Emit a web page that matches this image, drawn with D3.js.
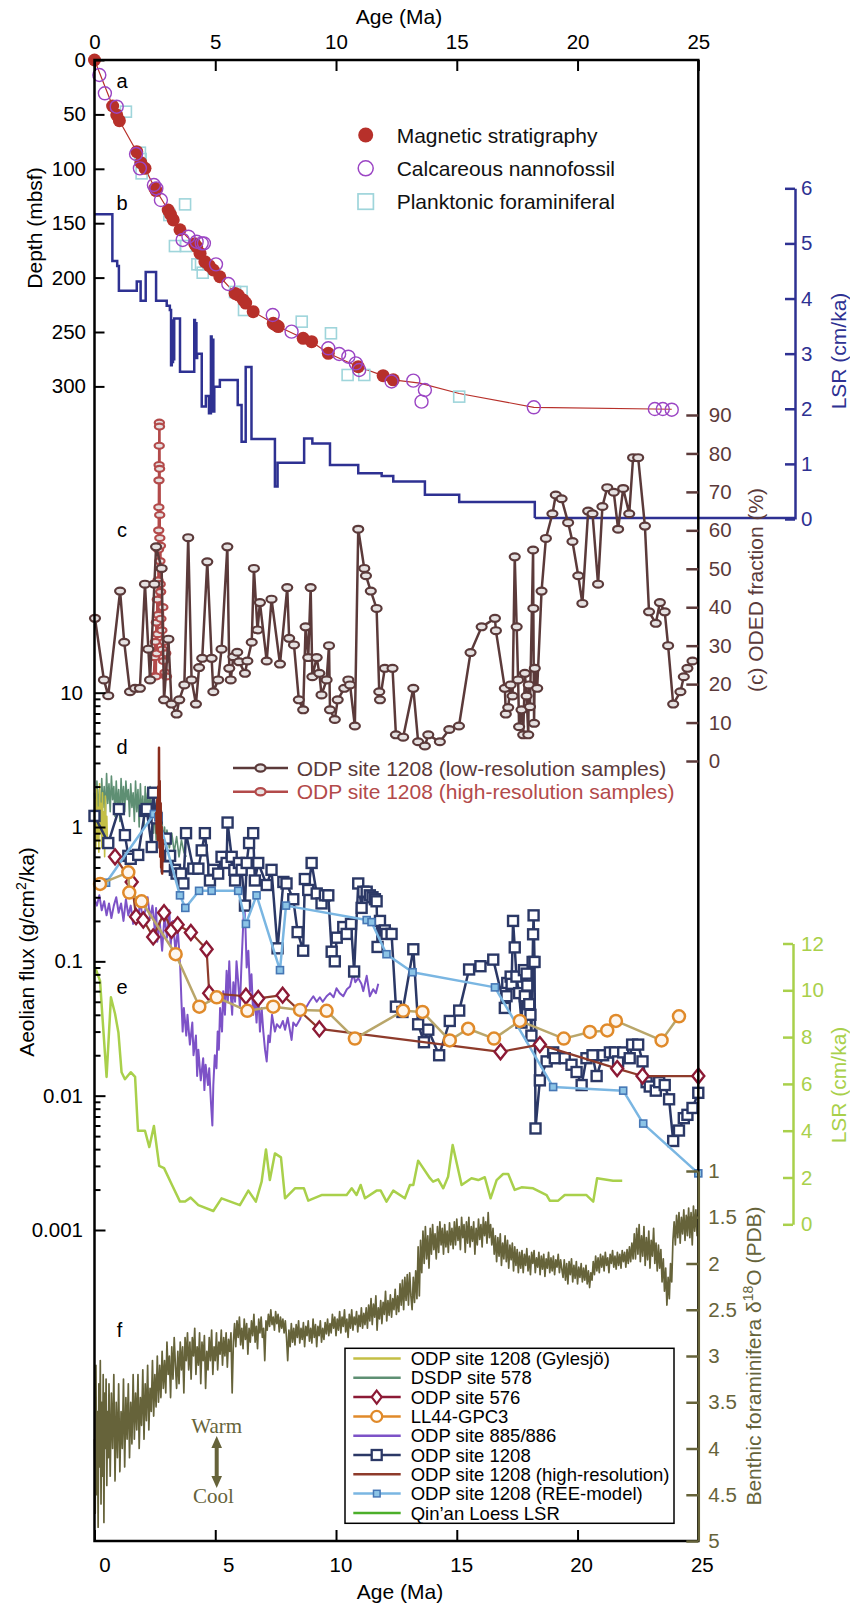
<!DOCTYPE html>
<html><head><meta charset="utf-8">
<script src="https://cdn.jsdelivr.net/npm/d3@7"></script>
<style>body{margin:0;background:#fff}svg{display:block}</style>
</head><body>
<svg id="c" width="850" height="1607"></svg>
<script>
// ---------------- DATA ----------------
const ageTicks = [0,5,10,15,20,25];
const depthTicks = [0,50,100,150,200,250,300];
const lsrTicks = [0,1,2,3,4,5,6];
const odedTicks = [0,10,20,30,40,50,60,70,80,90];
const fluxTicks = [10,1,0.1,0.01,0.001];
const fluxTickLabels = ["10","1","0.1","0.01","0.001"];
const loessTicks = [0,2,4,6,8,10,12];
const d18oTicks = [1,1.5,2,2.5,3,3.5,4,4.5,5];
const d18oTickLabels = ["1","1.5","2","2.5","3","3.5","4","4.5","5"];

// (a) age-depth: [age Ma, depth mbsf]
const magStrat = [[0,0],[0.75,42.3],[0.92,50.5],[1.03,55.8],[1.75,84.3],[1.92,94.4],[2.09,99.6],[2.5,117.9],[2.55,120],[3.05,137.9],[3.15,142],[3.26,147],[3.54,156],[4.15,169],[4.23,171.6],[4.37,177.7],[4.57,185.4],[4.75,189],[4.92,193],[5.19,199.2],[5.82,214.5],[5.95,216],[6.16,220.6],[6.26,223.4],[6.57,231.3],[7.4,242],[7.5,243.5],[7.61,245],[8.64,255.8],[8.99,258.9],[9.68,269.6],[10.92,281.9],[11.95,290.1],[12.37,294]];
const nannofossil = [[0.2,13.8],[0.43,30.6],[0.92,42.9],[1.72,86.4],[1.88,99.6],[2.46,114.9],[2.56,118],[2.75,128.7],[3.65,165.4],[3.89,162.4],[4.23,167],[4.44,168.5],[4.53,168.5],[5.03,187.8],[5.54,205.9],[7.38,234.4],[8.16,249.7],[9.68,265],[10.13,270.2],[10.51,272.7],[10.82,278.8],[10.96,284.9],[12.3,295.5],[13.2,294.7],[13.68,303.3],[13.54,314],[18.19,319.2],[23.2,320.8],[23.53,320.8],[23.9,321.4]];
const foraminifera = [[1.3,47.5],[1.88,85.2],[1.91,91],[1.95,104.2],[3.75,132.7],[3.10,142.5],[3.33,171],[3.79,171],[4.26,187.8],[4.41,187.8],[4.48,195.5],[5.82,213.2],[6.09,213.2],[6.19,229.8],[8.58,240.5],[9.79,251.2],[10.48,289.5],[11.17,289.5],[15.1,309.4]];
const ageModel = [[0,0],[0.75,42.3],[1.03,55.8],[1.75,84.3],[2.09,99.6],[2.5,117.9],[3.05,137.9],[3.54,156],[4.23,171.6],[4.57,185.4],[4.92,193],[5.19,199.2],[5.82,214.5],[6.26,223.4],[6.57,231.3],[7.4,242],[7.61,245],[8.64,255.8],[8.99,258.9],[9.68,269.6],[10.92,281.9],[11.95,290.1],[12.37,294],[13.47,297],[15.1,306.5],[18.19,319.2],[23.9,321]];

// (b) LSR ODP 1208 (step starts): [age, cm/ka]
const lsr1208 = [[0,5.53],[0.74,4.68],[0.94,4.59],[1.01,4.14],[1.75,4.31],[1.91,3.96],[2.12,4.48],[2.55,3.96],[2.99,3.87],[3.12,3.79],[3.17,2.79],[3.20,3.6],[3.22,2.85],[3.25,3.55],[3.27,2.9],[3.30,3.64],[3.54,2.67],[4.13,3.61],[4.16,2.95],[4.19,3.55],[4.22,2.92],[4.25,3.0],[4.44,2.04],[4.61,2.23],[4.74,1.92],[4.82,3.31],[4.85,2.0],[4.88,3.25],[4.92,1.95],[4.96,2.4],[5.19,2.52],[5.93,2.07],[6.09,1.40],[6.26,2.76],[6.50,1.45],[7.47,0.59],[7.58,1.02],[8.68,1.46],[9.02,1.37],[9.75,0.98],[10.92,0.83],[11.89,0.78],[12.37,0.68],[13.68,0.44],[15.1,0.31],[18.23,0.02]];

// (c) ODED fraction (%)
const odedLow = [[0.02,37.1],[0.39,21.1],[0.57,17.0],[1.06,44.2],[1.23,30.9],[1.47,18.0],[1.68,18.9],[1.88,18.9],[2.09,46.0],[2.23,29.1],[2.30,21.1],[2.48,46.0],[2.55,55.7],[2.78,50.1],[2.88,15.9],[3.06,31.7],[3.19,14.8],[3.40,12.2],[3.51,15.9],[3.72,19.8],[3.88,58.1],[4.02,21.1],[4.20,14.8],[4.33,24.3],[4.46,26.7],[4.67,51.8],[4.85,26.7],[4.92,18.0],[5.12,21.1],[5.26,29.1],[5.50,55.7],[5.58,24.1],[5.64,21.1],[5.75,27.1],[5.91,28.3],[5.99,25.8],[6.23,22.8],[6.33,26.0],[6.51,30.9],[6.60,50.1],[6.75,34.1],[6.85,41.2],[7.13,26.0],[7.33,42.1],[7.68,25.2],[7.98,45.1],[8.06,31.9],[8.26,30.2],[8.46,15.9],[8.64,13.3],[8.74,34.9],[8.85,26.9],[8.95,45.1],[9.02,21.9],[9.20,26.9],[9.31,22.8],[9.40,17.2],[9.61,21.1],[9.71,30.0],[9.75,13.3],[9.95,10.8],[10.07,15.9],[10.34,18.9],[10.51,21.1],[10.58,19.8],[10.78,9.1],[10.92,60.3],[11.17,50.1],[11.24,48.2],[11.44,44.2],[11.68,39.7],[11.79,18.0],[11.82,15.9],[12.02,24.1],[12.34,24.1],[12.48,6.8],[12.78,6.2],[13.20,18.9],[13.40,5.0],[13.68,3.9],[13.82,6.8],[14.30,5.0],[14.69,8.2],[15.09,9.1],[15.57,28.2],[16.03,34.9],[16.58,37.1],[16.62,33.9],[16.99,18.9],[17.03,12.2],[17.13,13.9],[17.23,19.8],[17.31,16.9],[17.40,53.1],[17.48,34.9],[17.54,21.1],[17.58,8.9],[17.68,13.3],[17.75,6.8],[17.82,22.8],[17.89,16.9],[17.96,6.8],[17.98,19.8],[18.03,14.1],[18.16,54.9],[18.17,39.7],[18.2,9.8],[18.23,24.1],[18.33,18.9],[18.51,44.2],[18.69,57.9],[18.96,64.3],[19.1,69.2],[19.34,68.2],[19.61,62.0],[19.79,57.1],[20.03,48.2],[20.2,41.0],[20.44,65.0],[20.62,64.3],[20.85,46.0],[21.03,66.2],[21.23,71.1],[21.5,69.9],[21.68,60.3],[21.89,70.9],[22.14,64.3],[22.3,78.9],[22.51,78.9],[22.79,61.1],[22.96,38.8],[23.24,35.8],[23.41,41.2],[23.61,38.8],[23.75,30.0],[23.96,14.8],[24.26,18.0],[24.4,21.9],[24.55,24.1],[24.76,26.0]];
const odedHigh = [[2.46,22],[2.49,27],[2.52,31],[2.54,22],[2.56,36],[2.58,28],[2.60,42],[2.62,33],[2.63,47],[2.64,38],[2.65,55],[2.66,60],[2.665,66],[2.67,73],[2.675,77],[2.68,82],[2.685,88],[2.69,87],[2.695,76],[2.70,64],[2.705,58],[2.71,52],[2.72,46],[2.73,56],[2.74,44],[2.75,37],[2.77,50],[2.79,34],[2.81,29],[2.83,40],[2.86,26],[2.89,31],[2.92,23],[2.95,28],[2.98,22]];

// (d) Aeolian flux (g/cm2/ka)
const fluxGylesjo = [[0.0,0.9],[0.03,1.6],[0.06,0.7],[0.09,1.9],[0.12,0.8],[0.15,1.4],[0.18,0.65],[0.21,2.1],[0.24,0.9],[0.27,1.5],[0.3,0.7],[0.33,1.8],[0.36,0.85],[0.39,1.3],[0.42,0.6],[0.45,1.7],[0.48,0.8],[0.51,1.2],[0.54,0.7]];
const flux578 = [[0.0,1.8],[0.05,1.1],[0.1,2.2],[0.15,1.3],[0.2,1.9],[0.25,1.0],[0.3,2.3],[0.35,1.4],[0.4,2.0],[0.45,1.2],[0.5,2.5],[0.55,1.5],[0.6,2.1],[0.65,1.3],[0.7,2.4],[0.75,1.6],[0.8,2.0],[0.85,1.2],[0.9,2.2],[0.95,1.4],[1.0,1.9],[1.05,1.1],[1.1,2.3],[1.15,1.5],[1.2,2.0],[1.25,1.3],[1.3,2.2],[1.35,1.6],[1.4,1.9],[1.45,1.2],[1.5,2.1],[1.55,1.4],[1.6,1.8],[1.65,1.1],[1.7,2.2],[1.75,1.3],[1.8,1.9],[1.85,1.0],[1.9,2.1],[1.95,1.2],[2.0,1.7],[2.05,1.0],[2.1,2.0],[2.15,1.3],[2.2,1.8],[2.25,1.1],[2.3,2.0],[2.35,1.2],[2.4,1.6],[2.45,0.9],[2.5,1.5],[2.55,0.8],[2.6,1.3],[2.65,0.85],[2.7,1.2],[2.75,0.75],[2.8,1.1],[2.85,0.7],[2.9,1.0],[2.95,0.75],[3.0,0.95],[3.1,0.7],[3.2,0.9],[3.3,0.65],[3.4,0.85],[3.5,0.6],[3.6,0.8],[3.7,0.65],[3.8,0.6]];
const flux576 = [[0.85,0.60],[1.54,0.39],[1.72,0.215],[2.02,0.203],[2.43,0.152],[2.88,0.23],[3.19,0.17],[3.44,0.187],[3.99,0.164],[4.64,0.123],[4.75,0.058],[6.27,0.055],[6.78,0.053],[7.79,0.056],[9.31,0.0314],[16.81,0.0212],[18.44,0.024],[21.64,0.0159],[22.69,0.014],[25.0,0.014]];
const fluxLL44 = [[0.23,0.377],[1.40,0.46],[1.44,0.325],[1.95,0.28],[3.36,0.113],[4.34,0.046],[5.06,0.054],[6.33,0.0428],[7.40,0.046],[8.51,0.0435],[9.61,0.0428],[10.78,0.0266],[12.78,0.0428],[13.58,0.042],[14.71,0.0258],[15.47,0.0315],[16.54,0.0266],[17.61,0.036],[19.43,0.0266],[20.51,0.0298],[21.23,0.0306],[21.59,0.036],[23.48,0.0258],[24.2,0.039]];
const flux885 = [[0.0,0.29],[0.1,0.26],[0.2,0.31],[0.3,0.24],[0.4,0.28],[0.5,0.22],[0.6,0.27],[0.7,0.21],[0.8,0.26],[0.9,0.30],[1.0,0.23],[1.1,0.27],[1.2,0.20],[1.3,0.29],[1.4,0.22],[1.5,0.26],[1.6,0.19],[1.7,0.25],[1.8,0.21],[1.9,0.28],[2.0,0.20],[2.1,0.24],[2.2,0.30],[2.3,0.21],[2.4,0.26],[2.5,0.17],[2.55,0.25],[2.6,0.14],[2.7,0.2],[2.8,0.12],[2.9,0.22],[3.0,0.15],[3.1,0.24],[3.15,0.13],[3.25,0.2],[3.35,0.12],[3.45,0.17],[3.55,0.09],[3.6,0.05],[3.65,0.03],[3.7,0.045],[3.8,0.028],[3.85,0.04],[3.95,0.024],[4.05,0.035],[4.1,0.02],[4.2,0.028],[4.25,0.014],[4.3,0.022],[4.4,0.013],[4.5,0.019],[4.55,0.011],[4.6,0.017],[4.7,0.012],[4.75,0.016],[4.82,0.009],[4.88,0.006],[4.92,0.012],[4.98,0.02],[5.05,0.016],[5.1,0.03],[5.15,0.022],[5.2,0.045],[5.28,0.03],[5.33,0.06],[5.4,0.04],[5.47,0.085],[5.52,0.05],[5.58,0.1],[5.63,0.06],[5.7,0.04],[5.75,0.07],[5.82,0.05],[5.88,0.1],[5.95,0.07],[6.02,0.045],[6.08,0.09],[6.14,0.16],[6.2,0.28],[6.25,0.18],[6.3,0.09],[6.37,0.12],[6.44,0.06],[6.5,0.08],[6.57,0.04],[6.64,0.055],[6.71,0.035],[6.78,0.06],[6.85,0.03],[6.92,0.045],[6.99,0.03],[7.06,0.022],[7.13,0.018],[7.2,0.028],[7.26,0.025],[7.35,0.04],[7.47,0.03],[7.55,0.034],[7.68,0.032],[7.8,0.036],[7.89,0.031],[8.0,0.038],[8.16,0.026],[8.23,0.035],[8.35,0.033],[8.51,0.037],[8.6,0.042],[8.78,0.046],[8.9,0.05],[9.06,0.055],[9.2,0.05],[9.33,0.054],[9.45,0.05],[9.61,0.055],[9.75,0.058],[9.9,0.054],[10.02,0.063],[10.15,0.058],[10.3,0.055],[10.45,0.062],[10.58,0.065],[10.71,0.081],[10.8,0.07],[10.92,0.075],[11.05,0.068],[11.13,0.06],[11.27,0.078],[11.4,0.055],[11.54,0.062],[11.65,0.058],[11.75,0.068]];
const flux1208 = [[0.0,1.21],[0.57,0.76],[1.01,1.36],[1.26,0.87],[1.40,0.61],[1.50,0.58],[1.81,0.62],[2.09,1.32],[2.16,1.36],[2.37,0.71],[2.43,1.80],[2.55,1.19],[2.57,1.16],[2.95,0.82],[2.99,0.51],[3.13,0.61],[3.33,0.48],[3.40,0.45],[3.58,0.45],[3.68,0.38],[3.79,0.9],[4.09,0.49],[4.30,0.49],[4.44,0.67],[4.57,0.9],[4.78,0.40],[4.92,0.48],[5.12,0.45],[5.26,0.6],[5.47,0.54],[5.51,1.08],[5.68,0.6],[5.79,0.48],[5.82,0.40],[5.98,0.54],[6.09,0.48],[6.23,0.26],[6.30,0.54],[6.40,0.76],[6.57,0.9],[6.64,0.40],[6.78,0.54],[7.13,0.37],[7.33,0.48],[7.58,0.125],[7.82,0.39],[7.95,0.38],[8.23,0.29],[8.41,0.165],[8.64,0.12],[8.71,0.41],[8.85,0.34],[8.99,0.54],[9.20,0.32],[9.40,0.27],[9.54,0.31],[9.68,0.31],[9.82,0.118],[9.95,0.10],[10.03,0.15],[10.30,0.18],[10.44,0.16],[10.62,0.19],[10.75,0.084],[10.92,0.38],[11.06,0.25],[11.13,0.33],[11.27,0.33],[11.40,0.31],[11.51,0.30],[11.61,0.29],[11.68,0.28],[11.72,0.128],[11.82,0.20],[12.02,0.17],[12.09,0.16],[12.30,0.16],[12.48,0.046],[12.75,0.042],[13.2,0.123],[13.40,0.034],[13.64,0.025],[13.82,0.031],[14.27,0.020],[14.71,0.036],[15.1,0.043],[15.51,0.087],[15.98,0.092],[16.51,0.103],[16.99,0.045],[17.06,0.055],[17.09,0.069],[17.23,0.077],[17.27,0.068],[17.33,0.20],[17.40,0.127],[17.47,0.077],[17.58,0.058],[17.68,0.035],[17.78,0.086],[17.82,0.055],[17.89,0.081],[17.92,0.066],[18.0,0.048],[18.05,0.040],[18.09,0.028],[18.14,0.099],[18.16,0.159],[18.18,0.22],[18.22,0.099],[18.26,0.0057],[18.44,0.013],[18.72,0.018],[18.99,0.021],[19.06,0.019],[19.47,0.019],[19.75,0.017],[19.96,0.015],[20.17,0.012],[20.37,0.019],[20.62,0.020],[20.79,0.014],[21.06,0.020],[21.34,0.021],[21.55,0.021],[21.68,0.018],[21.89,0.021],[22.16,0.019],[22.26,0.024],[22.51,0.024],[22.69,0.018],[22.86,0.0126],[22.99,0.0117],[23.24,0.0109],[23.38,0.0126],[23.61,0.012],[23.79,0.0094],[23.96,0.0046],[24.2,0.0055],[24.4,0.0068],[24.55,0.0072],[24.76,0.0081],[25.0,0.0105]];
const flux1208High = [[2.56,1.3],[2.58,0.9],[2.6,1.6],[2.62,0.8],[2.64,2.0],[2.66,1.1],[2.67,3.9],[2.68,1.4],[2.69,0.7],[2.70,2.2],[2.72,0.6],[2.74,1.5],[2.76,0.5],[2.78,1.0],[2.8,0.45],[2.82,0.8],[2.84,0.55]];
const flux1208REE = [[0.48,0.385],[2.46,1.25],[2.64,1.18],[3.54,0.31],[3.76,0.25],[4.33,0.335],[4.85,0.335],[5.95,0.335],[6.27,0.19],[6.71,0.31],[7.68,0.086],[7.93,0.26],[11.27,0.203],[11.47,0.196],[12.09,0.113],[13.17,0.083],[16.58,0.064],[18.99,0.0116],[21.89,0.0109],[22.72,0.0062],[25.0,0.00264]];

// (e) Qin'an loess LSR (cm/ka)
const loessLSR = [[0.02,11.0],[0.23,10.4],[0.30,9.3],[0.50,6.3],[0.68,9.7],[0.85,9.0],[0.99,8.2],[1.12,6.5],[1.26,6.2],[1.50,6.5],[1.68,6.3],[1.80,4.0],[2.09,4.0],[2.27,3.3],[2.46,4.2],[2.68,2.5],[2.88,2.4],[3.20,1.7],[3.54,0.97],[3.75,0.97],[3.98,1.14],[4.30,0.82],[4.92,0.57],[5.26,1.11],[6.02,0.82],[6.37,1.44],[6.68,0.97],[6.92,1.82],[7.10,3.2],[7.26,1.89],[7.47,3.03],[7.72,2.86],[7.89,1.11],[8.30,1.54],[8.67,1.54],[8.85,1.01],[9.40,1.25],[10.44,1.25],[10.65,1.54],[10.85,1.25],[11.02,1.68],[11.20,1.11],[11.68,1.44],[11.85,1.44],[12.09,0.97],[12.37,1.44],[12.85,1.11],[13.06,1.68],[13.2,1.68],[13.40,2.72],[13.89,1.97],[14.02,1.82],[14.23,1.92],[14.44,1.54],[14.64,2.03],[14.83,3.39],[15.2,1.68],[15.61,1.97],[15.89,1.89],[16.16,2.01],[16.40,1.11],[16.65,1.89],[16.92,2.15],[17.13,2.15],[17.40,1.47],[17.68,1.58],[18.16,1.54],[18.72,1.25],[18.85,1.01],[19.2,1.01],[19.47,1.25],[20.37,1.25],[20.65,0.97],[20.81,1.97],[21.47,1.86],[21.85,1.86]];

// (f) benthic d18O (permil PDB)
const d18O = [[0.00,3.9],[0.03,4.7],[0.06,3.1],[0.09,4.5],[0.12,3.6],[0.15,4.85],[0.18,3.3],[0.21,4.2],[0.24,3.05],[0.27,4.6],[0.30,3.5],[0.33,4.3],[0.36,3.2],[0.39,4.8],[0.42,3.4],[0.45,4.0],[0.48,3.25],[0.51,4.4],[0.54,3.6],[0.57,4.1],[0.60,3.3],
[0.65,4.3],[0.70,3.4],[0.75,4.0],[0.80,3.2],[0.85,4.35],[0.90,3.5],[0.95,4.1],[1.0,3.3],[1.05,4.25],[1.10,3.6],[1.15,4.0],[1.20,3.25],[1.25,4.2],[1.30,3.45],[1.35,3.9],[1.40,3.3],[1.45,4.1],[1.50,3.5],[1.55,3.95],[1.60,3.2],
[1.65,3.9],[1.70,3.4],[1.75,3.8],[1.80,3.2],[1.85,4.0],[1.90,3.45],[1.95,3.75],[2.0,3.15],[2.05,3.9],[2.10,3.3],[2.15,3.7],[2.20,3.1],[2.25,3.8],[2.30,3.35],[2.35,3.6],[2.40,3.05],[2.45,3.65],[2.50,3.2],[2.55,3.55],[2.60,3.0],[2.65,3.5],[2.70,3.1],[2.75,3.45],
[2.80,2.95],[2.85,3.35],[2.90,3.05],[2.95,3.40],[3.00,2.85],[3.05,3.20],[3.10,3.00],[3.15,3.45],[3.20,2.90],[3.25,3.25],[3.30,2.80],[3.35,3.10],[3.40,3.35],[3.45,2.95],[3.50,3.30],[3.55,2.85],[3.60,3.15],[3.65,2.90],[3.70,3.40],[3.75,2.80],
[3.80,3.05],[3.85,2.75],[3.90,3.15],[3.95,2.85],[4.00,3.25],[4.05,2.80],[4.10,3.00],[4.15,2.70],[4.20,3.20],[4.25,2.90],[4.30,3.10],[4.35,2.75],[4.40,3.30],[4.45,2.85],[4.50,3.05],[4.55,2.78],[4.60,3.35],[4.65,2.95],[4.70,3.15],[4.75,2.80],[4.80,3.05],[4.85,2.72],[4.90,3.20],[4.95,2.90],[5.00,3.05],[5.05,2.75],[5.10,3.15],[5.15,2.85],[5.20,2.98],[5.25,2.72],[5.30,3.10],[5.35,2.80],[5.40,3.00],[5.45,2.75],[5.50,3.12],[5.55,2.82],[5.60,2.95],[5.65,2.75],[5.70,3.40],[5.75,2.85],
[5.80,2.65],[5.85,2.90],[5.90,2.62],[5.95,2.80],[6.00,2.58],[6.05,2.88],[6.10,2.70],[6.15,2.92],[6.20,2.60],[6.25,2.82],[6.30,2.65],[6.35,2.98],[6.40,2.70],[6.45,2.85],[6.50,2.62],[6.55,2.78],[6.60,2.55],[6.65,2.85],[6.70,2.68],[6.75,2.92],[6.80,2.60],[6.85,2.75],[6.90,2.58],[6.95,2.80],[7.00,2.70],[7.05,3.05],[7.10,2.62],
[7.15,2.72],[7.20,2.55],[7.25,2.68],[7.30,2.50],[7.35,2.66],[7.40,2.58],[7.45,2.72],[7.50,2.52],[7.55,2.65],[7.60,2.55],[7.65,2.74],[7.70,2.58],[7.75,2.70],[7.80,2.60],[7.85,2.75],[7.90,2.62],[7.95,2.80],
[8.00,3.05],[8.05,2.72],[8.10,2.90],[8.15,2.65],[8.20,2.85],[8.25,2.70],[8.30,2.88],[8.35,2.66],[8.40,2.80],[8.45,2.62],[8.50,2.86],[8.55,2.70],[8.60,2.82],[8.65,2.64],[8.70,2.90],[8.75,2.68],[8.80,2.78],[8.85,2.62],[8.90,2.84],[8.95,2.70],[9.00,2.86],[9.05,2.60],[9.10,2.80],[9.15,2.66],[9.20,2.90],[9.25,2.68],[9.30,2.78],[9.35,2.62],[9.40,2.85],[9.45,2.70],[9.50,2.82],[9.55,2.64],[9.60,2.76],[9.65,2.60],[9.70,2.78],[9.75,2.65],
[9.80,2.75],[9.85,2.55],[9.90,2.70],[9.95,2.58],[10.00,2.78],[10.05,2.60],[10.10,2.72],[10.15,2.52],[10.20,2.75],[10.25,2.58],[10.30,2.68],[10.35,2.50],[10.40,2.74],[10.45,2.60],[10.50,2.80],[10.55,2.55],[10.60,2.70],[10.65,2.50],[10.70,2.72],[10.75,2.58],[10.80,2.66],[10.85,2.52],[10.90,2.74],[10.95,2.56],[11.00,2.68],[11.05,2.48],[11.10,2.70],[11.15,2.54],[11.20,2.66],[11.25,2.48],
[11.30,2.70],[11.35,2.45],[11.40,2.62],[11.45,2.38],[11.50,2.66],[11.55,2.44],[11.60,2.58],[11.65,2.35],[11.70,2.72],[11.75,2.48],[11.80,2.60],[11.85,2.40],[11.90,2.65],[11.95,2.42],[12.00,2.55],[12.05,2.30],[12.10,2.62],[12.15,2.40],[12.20,2.56],[12.25,2.34],[12.30,2.58],[12.35,2.38],[12.40,2.50],[12.45,2.28],[12.50,2.55],[12.55,2.35],
[12.60,2.52],[12.65,2.22],[12.70,2.45],[12.75,2.18],[12.80,2.50],[12.85,2.15],[12.90,2.40],[12.95,2.12],[13.00,2.45],[13.05,2.10],[13.10,2.35],[13.15,2.50],[13.20,2.15],[13.25,2.42],[13.30,2.08],[13.35,2.38],[13.40,1.82],[13.45,2.35],
[13.50,1.75],[13.55,2.10],[13.60,1.65],[13.65,2.00],[13.70,1.60],[13.75,1.95],[13.80,1.70],[13.85,2.05],[13.90,1.62],[13.95,1.90],[14.00,1.58],[14.05,1.85],[14.10,1.68],[14.15,1.95],[14.20,1.60],[14.25,1.88],[14.30,1.55],[14.35,1.80],[14.40,1.62],[14.45,1.90],[14.50,1.58],[14.55,1.82],[14.60,1.65],[14.65,1.88],[14.70,1.56],[14.75,1.80],[14.80,1.62],[14.85,1.84],
[14.90,1.55],[14.95,1.80],[15.00,1.52],[15.05,1.75],[15.10,1.60],[15.15,1.85],[15.20,1.50],[15.25,1.72],[15.30,1.58],[15.35,1.88],[15.40,1.55],[15.45,1.78],[15.50,1.50],[15.55,1.82],[15.60,1.60],[15.65,1.76],[15.70,1.55],[15.75,1.90],[15.80,1.62],[15.85,1.80],[15.90,1.52],[15.95,1.74],[16.00,1.58],[16.05,1.82],[16.10,1.50],[16.15,1.70],[16.20,1.55],[16.25,1.78],[16.30,1.45],[16.35,1.72],[16.40,1.58],[16.45,1.80],[16.50,1.62],
[16.55,1.90],[16.60,1.70],[16.65,1.98],[16.70,1.72],[16.75,1.92],[16.80,1.68],[16.85,2.02],[16.90,1.78],[16.95,1.95],[17.00,1.70],[17.05,1.98],[17.10,1.75],[17.15,2.05],[17.20,1.80],[17.25,1.96],[17.30,1.78],[17.35,2.08],[17.40,1.82],[17.45,2.02],[17.50,1.85],[17.55,2.10],[17.60,1.88],
[17.65,2.05],[17.70,1.86],[17.75,2.10],[17.80,1.90],[17.85,2.02],[17.90,1.84],[17.95,2.08],[18.00,1.92],[18.05,2.12],[18.10,1.88],[18.15,2.00],[18.20,1.86],[18.25,2.10],[18.30,1.94],[18.35,2.04],[18.40,1.88],[18.45,2.12],[18.50,1.92],[18.55,2.06],[18.60,1.90],[18.65,2.14],[18.70,1.95],[18.75,2.05],[18.80,1.88],[18.85,2.10],[18.90,1.94],[18.95,2.08],[19.00,1.92],[19.05,2.12],[19.10,1.96],[19.15,2.04],[19.20,1.90],[19.25,2.10],[19.30,1.96],[19.35,2.06],
[19.40,2.15],[19.45,1.96],[19.50,2.18],[19.55,2.00],[19.60,2.22],[19.65,1.98],[19.70,2.12],[19.75,1.95],[19.80,2.20],[19.85,2.02],[19.90,2.16],[19.95,1.98],[20.00,2.22],[20.05,2.04],[20.10,2.15],[20.15,2.00],[20.20,2.20],[20.25,2.05],[20.30,2.18],[20.35,2.02],[20.40,2.22],[20.45,2.08],[20.50,2.26],[20.55,2.10],[20.60,2.18],
[20.65,1.98],[20.70,2.12],[20.75,1.92],[20.80,2.08],[20.85,1.94],[20.90,2.10],[20.95,1.90],[21.00,2.04],[21.05,1.92],[21.10,2.08],[21.15,1.88],[21.20,2.02],[21.25,1.94],[21.30,2.10],[21.35,1.90],[21.40,2.00],[21.45,1.86],[21.50,2.04],[21.55,1.92],[21.60,2.06],[21.65,1.88],[21.70,2.02],[21.75,1.90],[21.80,2.05],[21.85,1.86],[21.90,1.98],[21.95,1.88],[22.00,2.04],[22.05,1.85],[22.10,2.00],[22.15,1.82],[22.20,1.98],[22.25,1.78],[22.30,1.95],
[22.35,1.68],[22.40,1.95],[22.45,1.62],[22.50,1.90],[22.55,1.58],[22.60,1.98],[22.65,1.70],[22.70,1.92],[22.75,1.60],[22.80,2.02],[22.85,1.72],[22.90,1.96],[22.95,1.65],[23.00,2.05],[23.05,1.75],[23.10,1.92],[23.15,1.62],[23.20,2.00],[23.25,1.78],[23.30,2.08],[23.35,1.80],[23.40,2.05],
[23.45,1.85],[23.50,2.20],[23.55,1.95],[23.60,2.30],[23.65,2.05],[23.70,2.45],[23.75,2.15],[23.80,2.38],[23.85,2.00],[23.90,2.20],
[23.95,1.75],[24.00,1.55],[24.05,1.80],[24.10,1.48],[24.15,1.72],[24.20,1.45],[24.25,1.78],[24.30,1.50],[24.35,1.68],[24.40,1.42],[24.45,1.75],[24.50,1.48],[24.55,1.70],[24.60,1.40],[24.65,1.72],[24.70,1.45],[24.75,1.80],[24.80,1.38],[24.85,1.65],[24.90,1.42],[24.95,1.70],[25.00,1.45]];

const legendA = ["Magnetic stratigraphy","Calcareous nannofossil","Planktonic foraminiferal"];
const legendC = ["ODP site 1208 (low-resolution samples)","ODP site 1208 (high-resolution samples)"];
const legendF = ["ODP site 1208 (Gylesjö)","DSDP site 578","ODP site 576","LL44-GPC3","ODP site 885/886","ODP site 1208","ODP site 1208 (high-resolution)","ODP site 1208 (REE-model)","Qin’an Loess LSR"];

// ---------------- DRAW ----------------
const F = '"Liberation Sans", Arial, Helvetica, sans-serif';
const C = {
  red:"#b7302a", purple:"#9b45c4", cyan:"#9fd5db", blue:"#2e3192",
  odedLow:"#5b3a3a", odedHigh:"#b34a4a",
  gyl:"#c4bf45", d578:"#5e8f73", d576:"#8c1a35", d576line:"#8e3b2b",
  ll44:"#e08a2a", ll44line:"#b9a66a", p885:"#7d52c7", navy:"#2b3866",
  hi:"#8a2c1c", ree:"#7ab6e2", reeMark:"#4677b5", loess:"#a9d04b", loessLeg:"#4caf2a",
  olive:"#66633a"
};
const svg = d3.select("#c");

const x = d3.scaleLinear().domain([0,25]).range([94.5,698.3]);
const yDepth = d3.scaleLinear().domain([0,300]).range([60,386.4]);
const yLSR = d3.scaleLinear().domain([0,6]).range([519,188.3]);
const yODED = d3.scaleLinear().domain([0,90]).range([761,415]);
const yFlux = d3.scaleLog().domain([0.001,10]).range([1230,692.7]);
const yLoess = d3.scaleLinear().domain([0,12]).range([1224.3,943.5]);
const yD18 = d3.scaleLinear().domain([1,5]).range([1171,1541]);

function styleAxis(g, color, fs, sw) {
  g.attr("font-family", F).attr("font-size", fs);
  g.selectAll("text").attr("fill", color);
  g.selectAll(".tick line").attr("stroke", color).attr("stroke-width", sw || 2);
  g.selectAll(".domain").attr("stroke", color).attr("stroke-width", 2.5);
}

// ---- (f) d18O band first (background)
svg.append("path").datum(d18O)
  .attr("d", d3.line().x(d=>x(d[0])).y(d=>yD18(d[1])))
  .attr("fill","none").attr("stroke",C.olive).attr("stroke-width",1.7).attr("stroke-linejoin","round");

// ---- (b) LSR step line
const lsrLine = d3.line().curve(d3.curveStepAfter).x(d=>x(d[0])).y(d=>yLSR(d[1]));
svg.append("path").datum(lsr1208).attr("d", lsrLine)
  .attr("fill","none").attr("stroke",C.blue).attr("stroke-width",2.5);
const lastL = lsr1208[lsr1208.length-1];
svg.append("line").attr("x1",x(lastL[0])).attr("x2",795).attr("y1",yLSR(lastL[1])).attr("y2",yLSR(lastL[1]))
  .attr("stroke",C.blue).attr("stroke-width",2.5);

// ---- (a) age-depth
svg.append("path").datum(ageModel)
  .attr("d", d3.line().x(d=>x(d[0])).y(d=>yDepth(d[1])))
  .attr("fill","none").attr("stroke",C.red).attr("stroke-width",1.2);
svg.append("g").selectAll("rect").data(foraminifera).join("rect")
  .attr("x",d=>x(d[0])-5.5).attr("y",d=>yDepth(d[1])-5.5).attr("width",11).attr("height",11)
  .attr("fill","none").attr("stroke",C.cyan).attr("stroke-width",1.6);
svg.append("g").selectAll("circle").data(magStrat).join("circle")
  .attr("cx",d=>x(d[0])).attr("cy",d=>yDepth(d[1])).attr("r",6.5).attr("fill",C.red);
svg.append("g").selectAll("circle").data(nannofossil).join("circle")
  .attr("cx",d=>x(d[0])).attr("cy",d=>yDepth(d[1])).attr("r",6.5)
  .attr("fill","none").attr("stroke",C.purple).attr("stroke-width",1.4);

// legend a
const la = svg.append("g").attr("font-family",F).attr("font-size",21);
legendA.forEach((t,i)=>{
  const yy = 135 + i*33.3;
  if(i===0) la.append("circle").attr("cx",365.7).attr("cy",yy).attr("r",7.5).attr("fill",C.red);
  if(i===1) la.append("circle").attr("cx",365.7).attr("cy",yy).attr("r",7.5).attr("fill","none").attr("stroke",C.purple).attr("stroke-width",1.5);
  if(i===2) la.append("rect").attr("x",358).attr("y",yy-7.7).attr("width",15.4).attr("height",15.4).attr("fill","none").attr("stroke",C.cyan).attr("stroke-width",1.7);
  la.append("text").attr("x",396.7).attr("y",yy).attr("dy","0.36em").attr("fill","#111").text(t);
});

// ---- (c) ODED
function odedMarks(data, color, rx, ry) {
  svg.append("g").selectAll("ellipse").data(data).join("ellipse")
    .attr("cx",d=>x(d[0])).attr("cy",d=>yODED(d[1])).attr("rx",rx).attr("ry",ry)
    .attr("fill","#e6e2e2").attr("stroke",color).attr("stroke-width",2.2);
}
const odLine = d3.line().x(d=>x(d[0])).y(d=>yODED(d[1]));
svg.append("path").datum(odedHigh).attr("d",odLine).attr("fill","none").attr("stroke",C.odedHigh).attr("stroke-width",2.5);
odedMarks(odedHigh, C.odedHigh, 4.6, 3);
svg.append("path").datum(odedLow).attr("d",odLine).attr("fill","none").attr("stroke",C.odedLow).attr("stroke-width",2.5);
odedMarks(odedLow, C.odedLow, 5, 3.4);

// legend c
const lc = svg.append("g").attr("font-family",F).attr("font-size",21);
legendC.forEach((t,i)=>{
  const yy = 768 + i*23.7, col = i===0 ? C.odedLow : C.odedHigh;
  lc.append("line").attr("x1",233).attr("x2",288).attr("y1",yy).attr("y2",yy).attr("stroke",col).attr("stroke-width",2.5);
  lc.append("ellipse").attr("cx",260.5).attr("cy",yy).attr("rx",5).attr("ry",3.6).attr("fill","#e6e2e2").attr("stroke",col).attr("stroke-width",2.2);
  lc.append("text").attr("x",296.7).attr("y",yy).attr("dy","0.36em").attr("fill",col).text(t);
});

// ---- (e) loess LSR
svg.append("path").datum(loessLSR)
  .attr("d", d3.line().x(d=>x(d[0])).y(d=>yLoess(d[1])))
  .attr("fill","none").attr("stroke",C.loess).attr("stroke-width",2.5).attr("stroke-linejoin","round");

// ---- (d) flux
const fl = d3.line().x(d=>x(d[0])).y(d=>yFlux(d[1]));
function fluxPath(data, color, w) {
  svg.append("path").datum(data).attr("d",fl).attr("fill","none").attr("stroke",color)
    .attr("stroke-width",w).attr("stroke-linejoin","round");
}
fluxPath(flux578, C.d578, 1.6);
fluxPath(fluxGylesjo, C.gyl, 1.6);
fluxPath(flux885, C.p885, 2);
fluxPath(flux1208, C.navy, 2.5);
svg.append("g").selectAll("rect").data(flux1208).join("rect")
  .attr("x",d=>x(d[0])-5).attr("y",d=>yFlux(d[1])-5).attr("width",10).attr("height",10)
  .attr("fill","#fff").attr("stroke",C.navy).attr("stroke-width",2.4);
fluxPath(flux1208REE, C.ree, 2.5);
svg.append("g").selectAll("rect").data(flux1208REE).join("rect")
  .attr("x",d=>x(d[0])-3.5).attr("y",d=>yFlux(d[1])-3.5).attr("width",7).attr("height",7)
  .attr("fill","#8cc4e6").attr("stroke",C.reeMark).attr("stroke-width",1.6);
fluxPath(flux576, C.d576line, 2.2);
const diamond = "M0,-7.5L6,0L0,7.5L-6,0Z";
svg.append("g").selectAll("path").data(flux576).join("path")
  .attr("d",diamond).attr("transform",d=>`translate(${x(d[0])},${yFlux(d[1])})`)
  .attr("fill","#fff").attr("stroke",C.d576).attr("stroke-width",2.4);
fluxPath(fluxLL44, C.ll44line, 2.5);
svg.append("g").selectAll("circle").data(fluxLL44).join("circle")
  .attr("cx",d=>x(d[0])).attr("cy",d=>yFlux(d[1])).attr("r",6)
  .attr("fill","#fdf6ee").attr("stroke",C.ll44).attr("stroke-width",2.5);
fluxPath(flux1208High, C.hi, 2.5);

// ---- frame
svg.append("rect").attr("x",94.5).attr("y",60).attr("width",698.3-94.5).attr("height",1541-60)
  .attr("fill","none").attr("stroke","#000").attr("stroke-width",2.5);

// ---- axes
const fmtInt = d3.format("d");
const gTop = svg.append("g").attr("transform","translate(0,60)")
  .call(d3.axisTop(x).tickValues(ageTicks).tickSizeInner(-11).tickSizeOuter(0).tickPadding(11).tickFormat(fmtInt));
gTop.select(".domain").remove(); styleAxis(gTop,"#000",20.5);

const bottomDx = [10,13,4.5,4.5,3.5,3.5];
const gBot = svg.append("g").attr("transform","translate(0,1541)")
  .call(d3.axisBottom(x).tickValues(ageTicks).tickSizeInner(-11).tickSizeOuter(0).tickPadding(16.5).tickFormat(fmtInt));
gBot.select(".domain").remove(); styleAxis(gBot,"#000",20.5);
gBot.selectAll(".tick text").attr("dx",(d,i)=>bottomDx[i]);

const gDepth = svg.append("g").attr("transform","translate(94.5,0)")
  .call(d3.axisLeft(yDepth).tickValues(depthTicks).tickSizeInner(-10).tickSizeOuter(0).tickPadding(8.5).tickFormat(fmtInt));
gDepth.select(".domain").remove(); styleAxis(gDepth,"#000",20.5);

const gFlux = svg.append("g").attr("transform","translate(94.5,0)")
  .call(d3.axisLeft(yFlux).tickValues(fluxTicks).tickFormat((d,i)=>fluxTickLabels[i]).tickSizeInner(-11).tickSizeOuter(0).tickPadding(11.5));
gFlux.select(".domain").remove(); styleAxis(gFlux,"#000",20.5);
const minor = yFlux.ticks().filter(v => !fluxTicks.some(m => Math.abs(m - v) / m < 1e-6));
const gMinor = svg.append("g").attr("transform","translate(94.5,0)")
  .call(d3.axisLeft(yFlux).tickValues(minor).tickFormat("").tickSizeInner(-6).tickSizeOuter(0));
gMinor.select(".domain").remove(); styleAxis(gMinor,"#000",10);

const gOded = svg.append("g").attr("transform","translate(698.3,0)")
  .call(d3.axisRight(yODED).tickValues(odedTicks).tickSizeInner(-12).tickSizeOuter(0).tickPadding(10.5).tickFormat(fmtInt));
gOded.select(".domain").remove(); styleAxis(gOded,C.odedLow,20.5,2.5);

const gLSR = svg.append("g").attr("transform","translate(795,0)")
  .call(d3.axisRight(yLSR).tickValues(lsrTicks).tickSizeInner(-10).tickSizeOuter(0).tickPadding(6).tickFormat(fmtInt));
styleAxis(gLSR,C.blue,20.5,2.5);

const gLoess = svg.append("g").attr("transform","translate(793,0)")
  .call(d3.axisRight(yLoess).tickValues(loessTicks).tickSizeInner(-10).tickSizeOuter(0).tickPadding(8).tickFormat(fmtInt));
styleAxis(gLoess,C.loess,20.5,2.5);

const gD18 = svg.append("g").attr("transform","translate(698.3,0)")
  .call(d3.axisRight(yD18).tickValues(d18oTicks).tickFormat((d,i)=>d18oTickLabels[i]).tickSizeInner(-12).tickSizeOuter(0).tickPadding(10));
styleAxis(gD18,C.olive,20.5,2.5);

// ---- axis titles
const T = svg.append("g").attr("font-family",F).attr("font-size",21);
T.append("text").attr("x",399).attr("y",24).attr("text-anchor","middle").attr("fill","#000").text("Age (Ma)");
T.append("text").attr("x",400).attr("y",1599).attr("text-anchor","middle").attr("fill","#000").text("Age (Ma)");
function vlabel(cx, cy, color) {
  return T.append("text").attr("transform",`translate(${cx},${cy}) rotate(-90)`)
    .attr("text-anchor","middle").attr("dy","0.36em").attr("fill",color);
}
vlabel(34,228,"#000").text("Depth (mbsf)");
const fluxT = vlabel(26,952,"#000");
fluxT.append("tspan").text("Aeolian flux (g/cm");
fluxT.append("tspan").attr("dy",-8).attr("font-size",14).text("2");
fluxT.append("tspan").attr("dy",8).text("/ka)");
vlabel(838,351,C.blue).text("LSR (cm/ka)");
vlabel(838,1085,C.loess).text("LSR (cm/ka)");
vlabel(755,590,C.odedLow).text("(c) ODED fraction (%)");
const d18T = vlabel(753,1356,C.olive);
d18T.append("tspan").text("Benthic foraminifera δ");
d18T.append("tspan").attr("dy",-8).attr("font-size",14).text("18");
d18T.append("tspan").attr("dy",8).text("O (PDB)");

// panel letters
const letters = [["a",122,81],["b",122,203],["c",122,530],["d",122,747],["e",122,987],["f",119.5,1330]];
letters.forEach(l=>T.append("text").attr("x",l[1]).attr("y",l[2]).attr("dy","0.36em")
  .attr("text-anchor","middle").attr("font-size",20).attr("fill","#000").text(l[0]));

// Warm / Cool
const WC = svg.append("g").attr("font-family",'"Liberation Serif","Times New Roman",serif').attr("font-size",21).attr("fill",C.olive);
WC.append("text").attr("x",216.7).attr("y",1425).attr("dy","0.36em").attr("text-anchor","middle").text("Warm");
WC.append("text").attr("x",213.5).attr("y",1495).attr("dy","0.36em").attr("text-anchor","middle").text("Cool");
WC.append("line").attr("x1",216.7).attr("x2",216.7).attr("y1",1444).attr("y2",1480).attr("stroke",C.olive).attr("stroke-width",4);
WC.append("path").attr("d","M216.7,1436L222,1448L211.4,1448Z M216.7,1488L222,1476L211.4,1476Z").attr("fill",C.olive);

// legend f
const lf = svg.append("g").attr("font-family",F).attr("font-size",18.5);
lf.append("rect").attr("x",345).attr("y",1348.3).attr("width",329).attr("height",175)
  .attr("fill","#fff").attr("stroke","#000").attr("stroke-width",1.5);
const legCols = [C.gyl, C.d578, C.d576, C.ll44, C.p885, C.navy, C.d576line, C.ree, C.loessLeg];
legendF.forEach((t,i)=>{
  const yy = 1358.5 + i*19.3;
  lf.append("line").attr("x1",353.3).attr("x2",400.7).attr("y1",yy).attr("y2",yy).attr("stroke",legCols[i]).attr("stroke-width",2.5);
  if(i===2) lf.append("path").attr("d","M0,-6.5L5,0L0,6.5L-5,0Z").attr("transform",`translate(376.7,${yy})`).attr("fill","#fff").attr("stroke",C.d576).attr("stroke-width",2.2);
  if(i===3) lf.append("circle").attr("cx",376.7).attr("cy",yy).attr("r",5.5).attr("fill","#fff").attr("stroke",C.ll44).attr("stroke-width",2.3);
  if(i===5) lf.append("rect").attr("x",371.7).attr("y",yy-5).attr("width",10).attr("height",10).attr("fill","#fff").attr("stroke",C.navy).attr("stroke-width",2.3);
  if(i===7) lf.append("rect").attr("x",373.5).attr("y",yy-3.3).attr("width",6.6).attr("height",6.6).attr("fill","#8cc4e6").attr("stroke",C.reeMark).attr("stroke-width",1.5);
  lf.append("text").attr("x",410.7).attr("y",yy).attr("dy","0.36em").attr("fill","#000").text(t);
});
</script>
</body></html>
